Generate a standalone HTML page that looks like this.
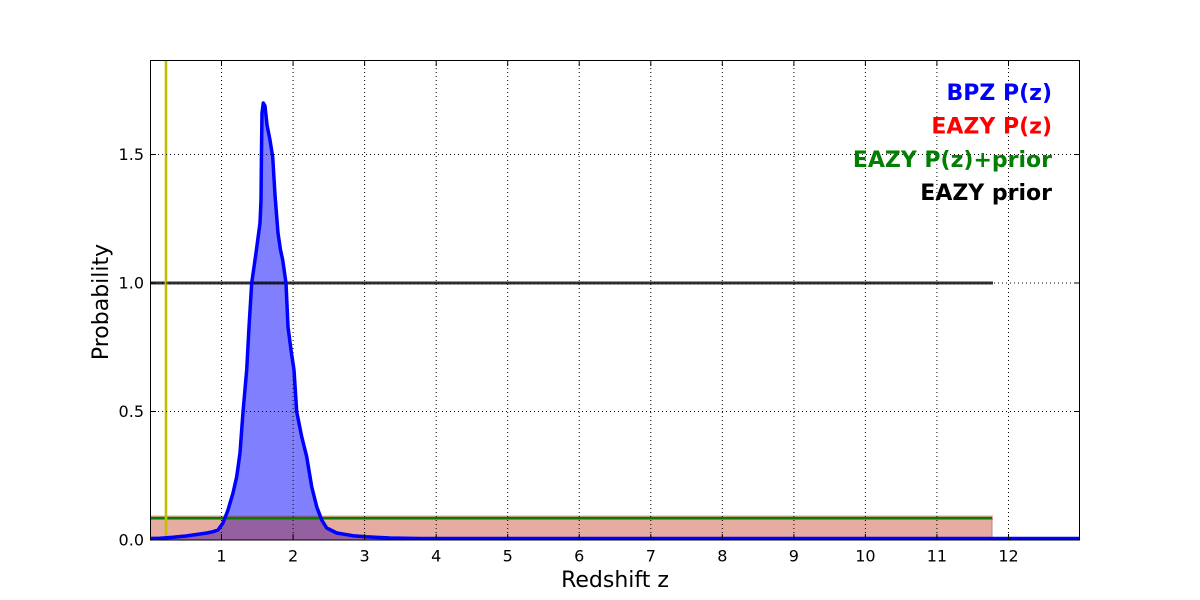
<!DOCTYPE html>
<html><head><meta charset="utf-8"><style>
html,body{margin:0;padding:0;background:#fff;}
svg{display:block;font-family:"DejaVu Sans","Liberation Sans",sans-serif;}
</style></head><body>
<svg width="1200" height="600" viewBox="0 0 1200 600" xmlns="http://www.w3.org/2000/svg">
<defs>
<clipPath id="plot"><rect x="150" y="60" width="930" height="480"/></clipPath>
<clipPath id="curve"><polygon points="150,538.5 160,538.3 173,537.3 186,536 200,534 207,533 213,531.7 218,530 223,523 228,510 233,493 236.7,476.7 240,453 243,412 246.7,370 249,327 251.7,283 256,253 260,223 261,200 261.5,150 262,113 263.3,103 265,106 267,125 270,140 272.7,157 275,195 278,233 280.5,250 282.7,260 286,283 288,327 291,350 294,370 296.7,411.7 301.7,436.7 306.7,456.7 311.7,486.7 316.7,506.7 321.7,520 326.7,528 336.7,533 353,535.7 366,536.8 390,538 420,538.5 1080,538.5 1080,540 150,540"/></clipPath>
</defs>
<rect width="1200" height="600" fill="#fff"/>
<g clip-path="url(#plot)">
<polygon fill="#8080ff" points="150,538.5 160,538.3 173,537.3 186,536 200,534 207,533 213,531.7 218,530 223,523 228,510 233,493 236.7,476.7 240,453 243,412 246.7,370 249,327 251.7,283 256,253 260,223 261,200 261.5,150 262,113 263.3,103 265,106 267,125 270,140 272.7,157 275,195 278,233 280.5,250 282.7,260 286,283 288,327 291,350 294,370 296.7,411.7 301.7,436.7 306.7,456.7 311.7,486.7 316.7,506.7 321.7,520 326.7,528 336.7,533 353,535.7 366,536.8 390,538 420,538.5 1080,538.5 1080,540 150,540"/>
<rect x="150" y="518" width="842" height="22" fill="#e6aba1"/>
<line x1="992" y1="518" x2="992" y2="540" stroke="#b08a85" stroke-width="1"/>
<rect x="150" y="518" width="842" height="22" fill="#9560a0" clip-path="url(#curve)"/>
<line x1="150" y1="517.8" x2="993" y2="517.8" stroke="rgba(255,0,0,0.35)" stroke-width="4.5"/>
<line x1="150" y1="518" x2="992" y2="518" stroke="#007f00" stroke-width="2.5"/>
<line x1="150" y1="283" x2="993" y2="283" stroke="#000" stroke-opacity="0.8" stroke-width="3"/>
<line x1="166" y1="60" x2="166" y2="540" stroke="#c0c000" stroke-width="2.6"/>
<g stroke="#000" stroke-width="1" stroke-dasharray="1,3">
<line x1="221.5" y1="60" x2="221.5" y2="540"/>
<line x1="293.1" y1="60" x2="293.1" y2="540"/>
<line x1="364.6" y1="60" x2="364.6" y2="540"/>
<line x1="436.2" y1="60" x2="436.2" y2="540"/>
<line x1="507.7" y1="60" x2="507.7" y2="540"/>
<line x1="579.2" y1="60" x2="579.2" y2="540"/>
<line x1="650.8" y1="60" x2="650.8" y2="540"/>
<line x1="722.3" y1="60" x2="722.3" y2="540"/>
<line x1="793.9" y1="60" x2="793.9" y2="540"/>
<line x1="865.4" y1="60" x2="865.4" y2="540"/>
<line x1="936.9" y1="60" x2="936.9" y2="540"/>
<line x1="1008.5" y1="60" x2="1008.5" y2="540"/>
<line x1="150" y1="411.5" x2="1080" y2="411.5"/>
<line x1="150" y1="283" x2="1080" y2="283"/>
<line x1="150" y1="154.5" x2="1080" y2="154.5"/>
</g>
<polyline fill="none" stroke="#0000ff" stroke-width="3.5" stroke-linejoin="round" points="150,538.5 160,538.3 173,537.3 186,536 200,534 207,533 213,531.7 218,530 223,523 228,510 233,493 236.7,476.7 240,453 243,412 246.7,370 249,327 251.7,283 256,253 260,223 261,200 261.5,150 262,113 263.3,103 265,106 267,125 270,140 272.7,157 275,195 278,233 280.5,250 282.7,260 286,283 288,327 291,350 294,370 296.7,411.7 301.7,436.7 306.7,456.7 311.7,486.7 316.7,506.7 321.7,520 326.7,528 336.7,533 353,535.7 366,536.8 390,538 420,538.5 1080,538.5"/>
</g>
<rect x="150.5" y="60.5" width="929" height="479.5" fill="none" stroke="#000" stroke-width="1"/>
<g stroke="#000" stroke-width="1">
<path d="M221.5,540v-6M293.1,540v-6M364.6,540v-6M436.2,540v-6M507.7,540v-6M579.2,540v-6M650.8,540v-6M722.3,540v-6M793.9,540v-6M865.4,540v-6M936.9,540v-6M1008.5,540v-6"/>
<path d="M221.5,60v6M293.1,60v6M364.6,60v6M436.2,60v6M507.7,60v6M579.2,60v6M650.8,60v6M722.3,60v6M793.9,60v6M865.4,60v6M936.9,60v6M1008.5,60v6"/>
<path d="M150,411.5h6M150,283h6M150,154.5h6M1080,411.5h-6M1080,283h-6M1080,154.5h-6"/>
</g>
<g font-size="16" fill="#000" text-anchor="middle">
<text x="221.5" y="561.5">1</text>
<text x="293.1" y="561.5">2</text>
<text x="364.6" y="561.5">3</text>
<text x="436.2" y="561.5">4</text>
<text x="507.7" y="561.5">5</text>
<text x="579.2" y="561.5">6</text>
<text x="650.8" y="561.5">7</text>
<text x="722.3" y="561.5">8</text>
<text x="793.9" y="561.5">9</text>
<text x="865.4" y="561.5">10</text>
<text x="936.9" y="561.5">11</text>
<text x="1008.5" y="561.5">12</text>
</g>
<g font-size="16" fill="#000" text-anchor="end">
<text x="144" y="545.5">0.0</text>
<text x="144" y="417">0.5</text>
<text x="144" y="288.5">1.0</text>
<text x="144" y="160">1.5</text>
</g>
<text x="615" y="587" font-size="22" text-anchor="middle" fill="#000">Redshift z</text>
<text transform="translate(108,302) rotate(-90)" font-size="22" text-anchor="middle" fill="#000">Probability</text>
<g font-size="22" font-weight="bold" text-anchor="end">
<text x="1052" y="100" fill="#0000ff">BPZ P(z)</text>
<text x="1052" y="133.5" fill="#ff0000">EAZY P(z)</text>
<text x="1052" y="167" fill="#007f00">EAZY P(z)+prior</text>
<text x="1052" y="200" fill="#000">EAZY prior</text>
</g>
</svg>
</body></html>
